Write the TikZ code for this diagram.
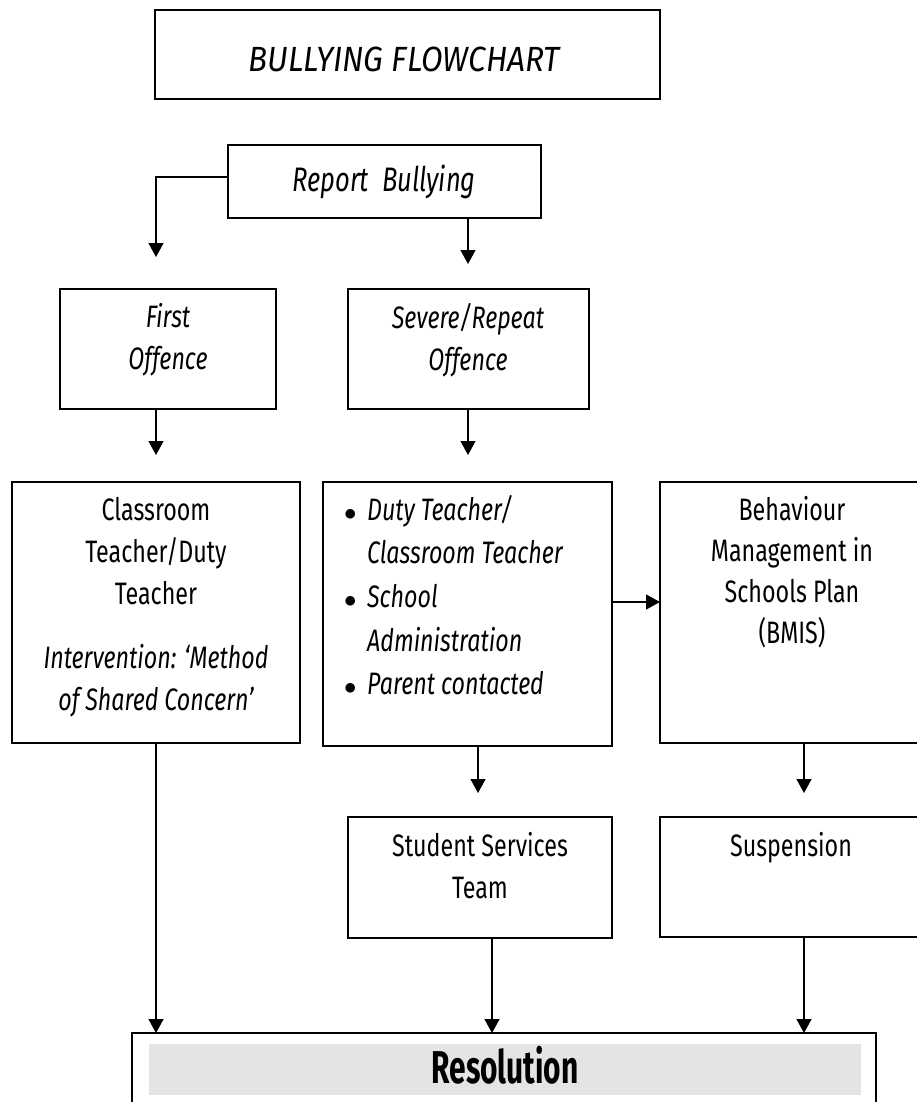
\documentclass[tikz,border=0pt]{standalone}
\usepackage{fontspec}
\setmainfont{Fira Sans}[FakeStretch=0.75]
\newfontfamily\titlefont{Fira Sans}[FakeStretch=0.9]
\newfontfamily\resfont{Fira Sans}[FakeStretch=0.65]
\usetikzlibrary{arrows.meta}
\definecolor{bandgray}{RGB}{228,228,228}
\newcommand{\tbox}[2]{\parbox[t]{#1}{\centering #2}}
\newcommand{\bul}{\makebox[23pt][l]{$\bullet$}}
\begin{document}
\begin{tikzpicture}[x=1pt,y=-1pt,
  box/.style={draw, line width=1.2pt, rectangle, inner sep=0pt, outer sep=0pt, anchor=north west},
  txt/.style={inner sep=0pt, anchor=base, font=\fontsize{31}{42}\selectfont},
  arr/.style={line width=1.2pt, -{Triangle[length=14pt,width=15pt]}}]
\path[use as bounding box] (0,0) rectangle (917,1102);
\fill[white] (0,0) rectangle (917,1102);
\begin{scope}
\clip (0,0) rectangle (917,1102);
% boxes
\node[box, minimum width=505pt, minimum height=89pt] (title) at (155,10) {};
\node[box, minimum width=313pt, minimum height=73pt] (report) at (228,145) {};
\node[box, minimum width=216pt, minimum height=120pt] (first) at (60,289) {};
\node[box, minimum width=241pt, minimum height=120pt] (severe) at (348,289) {};
\node[box, minimum width=288pt, minimum height=261pt] (classroom) at (12,482) {};
\node[box, minimum width=289pt, minimum height=264pt] (mid) at (323,482) {};
\node[box, minimum width=264pt, minimum height=261pt] (bmis) at (660,482) {};
\node[box, minimum width=264pt, minimum height=121pt] (student) at (348,817) {};
\node[box, minimum width=264pt, minimum height=120pt] (susp) at (660,817) {};
\node[box, minimum width=744pt, minimum height=90pt] (resolution) at (132,1033) {};
\node[fill=bandgray, inner sep=0pt, anchor=north west, minimum width=712pt, minimum height=51pt] (band) at (149,1044) {};
% texts
\node[txt, font=\titlefont\itshape\fontsize{35}{40}\selectfont] (titletxt) at (404,72) {BULLYING FLOWCHART};
\node[txt, font=\itshape\fontsize{34}{40}\selectfont] (reptxt) at (384,192) {Report\ \ Bullying};
\node[txt, font=\itshape\fontsize{31}{42}\selectfont] (firsttxt) at (168,327) {\tbox{200pt}{First\\Offence}};
\node[txt, font=\itshape\fontsize{31}{42}\selectfont] (severetxt) at (468,328) {\tbox{230pt}{Severe/Repeat\\Offence}};
\node[txt] (classtxt) at (156,520) {\tbox{280pt}{Classroom\\Teacher/Duty\\Teacher\\[22pt]\itshape Intervention: ‘Method\\of Shared Concern’}};
\node[txt, anchor=base west, font=\itshape\fontsize{31}{43.7}\selectfont] (midtxt) at (344,520)
  {\begin{tabular}[t]{@{}l@{}l@{}}
   \bul & Duty Teacher/\\
    & Classroom Teacher\\
   \bul & School\\
    & Administration\\
   \bul & Parent contacted
   \end{tabular}};
\node[txt, font=\fontsize{31}{41}\selectfont] (bmistxt) at (792,520) {\tbox{250pt}{Behaviour\\Management in\\Schools Plan\\(BMIS)}};
\node[txt] (stutxt) at (480,856) {\tbox{250pt}{Student Services\\Team}};
\node[txt] (susptxt) at (791,856) {Suspension};
\node[txt, font=\resfont\bfseries\fontsize{46}{50}\selectfont] (restxt) at (505,1083) {Resolution};
% connectors
\coordinate (t1) at (156,257);
\coordinate (t2) at (468,264);
\coordinate (t3) at (156,455);
\coordinate (t4) at (468,455);
\coordinate (t5) at (478,793);
\coordinate (t6) at (804,793);
\draw[arr] ([yshift=4.5pt]report.west) -| (t1);
\draw[arr] (report.south -| t2) -- (t2);
\draw[arr] (first.south -| t3) -- (t3);
\draw[arr] (severe.south -| t4) -- (t4);
\draw[arr] (mid.east |- 0,602) -- (bmis.west |- 0,602);
\draw[arr] (mid.south -| t5) -- (t5);
\draw[arr] (bmis.south -| t6) -- (t6);
\draw[arr] (classroom.south -| t3) -- (resolution.north -| t3);
\draw[arr] (student.south -| 492,0) -- (resolution.north -| 492,0);
\draw[arr] (susp.south -| t6) -- (resolution.north -| t6);
\end{scope}
\end{tikzpicture}
\end{document}
